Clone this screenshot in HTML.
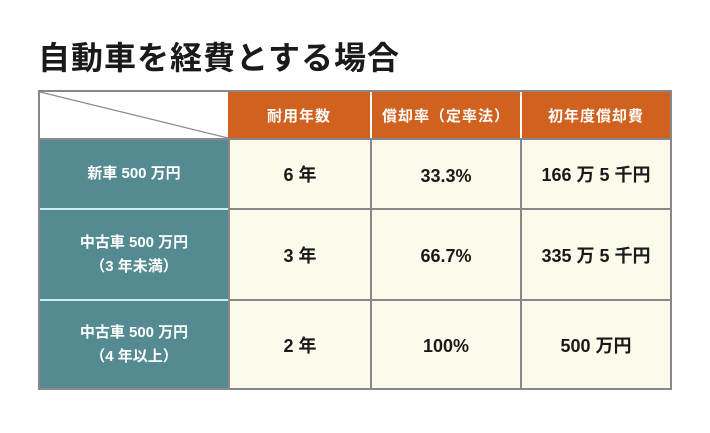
<!DOCTYPE html>
<html><head><meta charset="utf-8"><style>
body{margin:0;width:710px;height:433px;background:#fff;position:relative;overflow:hidden;font-family:"Liberation Sans","Noto Sans CJK JP",sans-serif;}
.c{position:absolute;display:flex;align-items:center;justify-content:center;text-align:center;box-sizing:border-box;}
.h{background:#d0611f;color:#fff;font-size:15px;font-weight:bold;letter-spacing:1px;}
.t{background:#548a91;color:#fff;font-size:15px;font-weight:bold;line-height:24px;}
.v{background:#fbfaeb;color:#1a1a1a;font-size:18px;font-weight:bold;}
.p{padding-top:4px;}
</style></head><body>
<div style="position:absolute;left:38px;top:33px;font-size:32px;font-weight:bold;color:#1a1a1a;letter-spacing:1px;">自動車を経費とする場合</div>
<div style="position:absolute;left:38px;top:90px;width:634px;height:300px;border:2px solid #888;box-sizing:border-box;background:#888;">
<div class="c" style="left:0;top:0;width:188px;height:46px;background:#fff;">
<svg width="188" height="46" style="position:absolute;left:0;top:0"><line x1="0" y1="0" x2="188" y2="46" stroke="#888" stroke-width="1.2"/></svg></div>
<div class="c h" style="left:188px;top:0;width:142px;height:46px;">耐用年数</div>
<div class="c h" style="left:332px;top:0;width:148px;height:46px;">償却率（定率法）</div>
<div class="c h" style="left:482px;top:0;width:148px;height:46px;">初年度償却費</div>
<div style="position:absolute;left:330px;top:0;width:2px;height:46px;background:#fff"></div>
<div style="position:absolute;left:480px;top:0;width:2px;height:46px;background:#fff"></div>

<div class="c t" style="left:0;top:48px;width:188px;height:68px;">新車 500 万円</div>
<div class="c t" style="left:0;top:118px;width:188px;height:89px;">中古車 500 万円<br>（3 年未満）</div>
<div class="c t" style="left:0;top:209px;width:188px;height:87px;">中古車 500 万円<br>（4 年以上）</div>
<div style="position:absolute;left:0;top:116px;width:188px;height:2px;background:#cfeff2"></div>
<div style="position:absolute;left:0;top:207px;width:188px;height:2px;background:#cfeff2"></div>

<div class="c v" style="left:190px;top:48px;width:140px;height:68px;">6 年</div>
<div class="c v p" style="left:332px;top:48px;width:148px;height:68px;">33.3%</div>
<div class="c v" style="left:482px;top:48px;width:148px;height:68px;">166 万 5 千円</div>

<div class="c v" style="left:190px;top:118px;width:140px;height:89px;">3 年</div>
<div class="c v p" style="left:332px;top:118px;width:148px;height:89px;">66.7%</div>
<div class="c v" style="left:482px;top:118px;width:148px;height:89px;">335 万 5 千円</div>

<div class="c v" style="left:190px;top:209px;width:140px;height:87px;">2 年</div>
<div class="c v p" style="left:332px;top:209px;width:148px;height:87px;">100%</div>
<div class="c v" style="left:482px;top:209px;width:148px;height:87px;">500 万円</div>
</div>
</body></html>
